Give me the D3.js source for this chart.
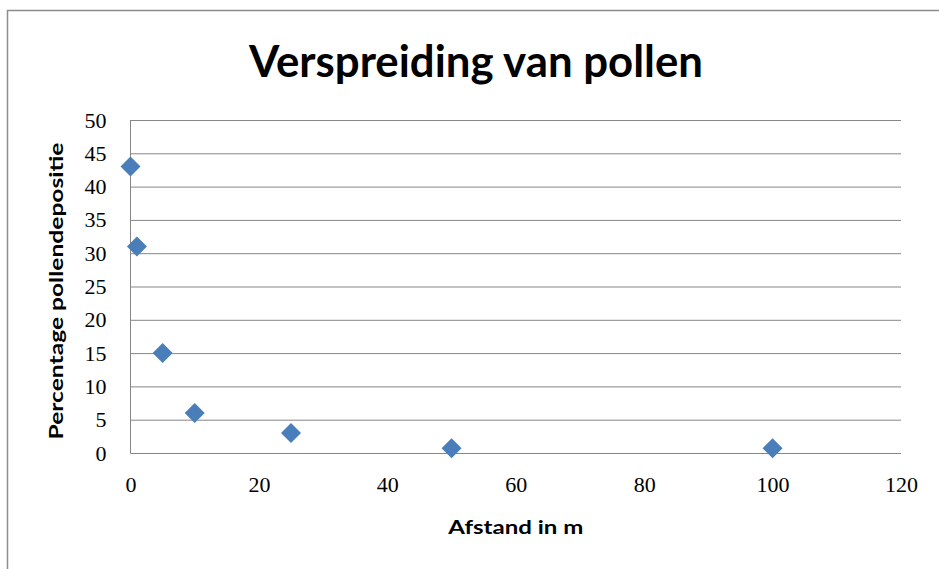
<!DOCTYPE html>
<html><head><meta charset="utf-8">
<script src="https://cdn.jsdelivr.net/npm/d3@7"></script>
<style>body{margin:0;background:#fff}svg{display:block}</style>
</head><body>
<svg id="c" width="939" height="569"></svg>
<script>
const title = "Verspreiding van pollen";
const xTitle = "Afstand in m";
const yTitle = "Percentage pollendepositie";
const distances = [0, 1, 5, 10, 25, 50, 100];
const percentages = [43, 31, 15, 6, 3, 0.7, 0.7];
const xTicks = [0, 20, 40, 60, 80, 100, 120];
const yTicks = [0, 5, 10, 15, 20, 25, 30, 35, 40, 45, 50];

(function () {
const svg = d3.select("#c");
const W = 939, H = 569;
const pl = 130.5, pr = 901, pt = 120, pb = 453;
const sans = "Lato, 'Open Sans', 'Liberation Sans', sans-serif";

svg.append("rect").attr("x", 7.5).attr("y", 10.5).attr("width", W + 10).attr("height", H + 10)
  .attr("fill", "#fff").attr("stroke", "#8c8c8c").attr("stroke-width", 1.5);

const x = d3.scaleLinear().domain([0, 120]).range([pl, pr]);
const y = d3.scaleLinear().domain([0, 50]).range([pb, pt]);

// gridlines
const gy = svg.append("g").attr("transform", `translate(${pl},0)`)
  .call(d3.axisLeft(y).tickValues(yTicks).tickSize(-(pr - pl)).tickFormat(""));
gy.select(".domain").remove();
gy.selectAll("line").attr("stroke", "#868686").attr("stroke-width", 1);

// y axis line
svg.append("line").attr("x1", pl).attr("x2", pl).attr("y1", pt).attr("y2", pb + 0.5)
  .attr("stroke", "#868686").attr("stroke-width", 1);

// y tick labels
const yl = svg.append("g").attr("transform", `translate(${pl},0)`)
  .call(d3.axisLeft(y).tickValues(yTicks).tickSize(0).tickPadding(24).tickFormat(d3.format("d")));
yl.select(".domain").remove();
yl.selectAll("text").attr("font-family", "'Liberation Serif', 'DejaVu Serif', serif")
  .attr("font-size", 22).attr("fill", "#000");

// x tick labels
const xl = svg.append("g").attr("transform", `translate(0,${pb})`)
  .call(d3.axisBottom(x).tickValues(xTicks).tickSize(0).tickPadding(23).tickFormat(d3.format("d")));
xl.select(".domain").remove();
xl.selectAll("text").attr("font-family", "'Liberation Serif', 'DejaVu Serif', serif")
  .attr("font-size", 22).attr("fill", "#000");

// points
const sym = d3.symbol().type(d3.symbolSquare).size(200);
svg.append("g").selectAll("path").data(distances).join("path")
  .attr("d", sym())
  .attr("transform", (d, i) => `translate(${x(d)},${y(percentages[i])}) rotate(45)`)
  .attr("fill", "#4a7ebb");

// titles
svg.append("text").attr("x", 476).attr("y", 77).attr("text-anchor", "middle")
  .attr("font-family", sans).attr("font-weight", "bold")
  .attr("font-size", 44).attr("textLength", 454).attr("lengthAdjust", "spacingAndGlyphs")
  .attr("fill", "#000").text(title);

svg.append("text").attr("x", (pl + pr) / 2).attr("y", 534).attr("text-anchor", "middle")
  .attr("font-family", sans).attr("font-weight", "bold")
  .attr("font-size", 19).attr("textLength", 135).attr("lengthAdjust", "spacingAndGlyphs")
  .attr("fill", "#000").text(xTitle);

svg.append("text").attr("transform", "translate(63,291) rotate(-90)").attr("text-anchor", "middle")
  .attr("font-family", sans).attr("font-weight", "bold")
  .attr("font-size", 19).attr("textLength", 297).attr("lengthAdjust", "spacingAndGlyphs")
  .attr("fill", "#000").text(yTitle);
})();
</script>
</body></html>
